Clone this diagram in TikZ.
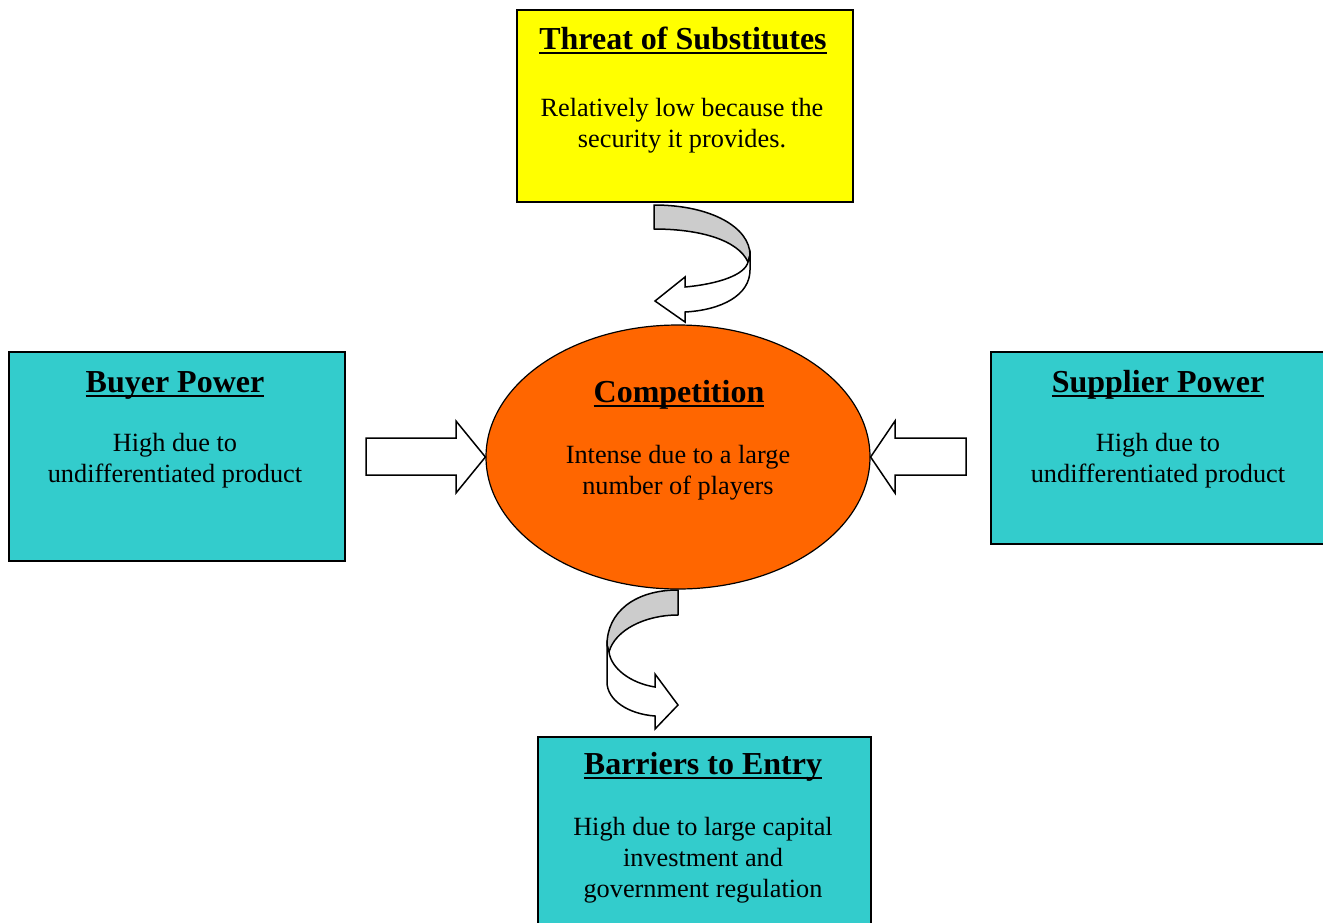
\documentclass[tikz,border=0pt]{standalone}
\usepackage{fontspec}
\setmainfont{Liberation Serif}
\usetikzlibrary{shapes.geometric}
\definecolor{boxteal}{HTML}{33CCCC}
\definecolor{boxyellow}{HTML}{FFFF00}
\definecolor{ellorange}{HTML}{FF6600}
\definecolor{arrgray}{HTML}{CCCCCC}
\newcommand\thickul[1]{\leavevmode\setbox0\hbox{#1}\rlap{\vrule height -2.5pt depth 4.8pt width \wd0}\box0}
\begin{document}
\begin{tikzpicture}[x=1pt,y=-1pt,
  box/.style={draw=black,line width=1.5pt,anchor=north west,inner sep=0pt},
  ttl/.style={font=\fontsize{32}{34}\selectfont\bfseries,inner sep=0pt,anchor=base},
  bodytext/.style={font=\fontsize{26.3}{31}\selectfont,align=center,inner sep=0pt},
  blockarrow/.style={draw=black,fill=white,line width=1.5pt,line join=miter},
  curvegray/.style={draw=black,fill=arrgray,line width=1.5pt,line join=round},
  curvewhite/.style={draw=black,fill=white,line width=1.5pt,line join=miter}]
\useasboundingbox (0,0) rectangle (1323,922);
% boxes
\node[box,fill=boxyellow,minimum width=336pt,minimum height=192pt] (threat) at (516,9) {};
\node[box,fill=boxteal,minimum width=336pt,minimum height=209pt] (buyer) at (8,351) {};
\node[box,fill=boxteal,minimum width=334pt,minimum height=192pt] (supplier) at (990,351) {};
\node[box,fill=boxteal,minimum width=333pt,minimum height=200pt] (barriers) at (537,736) {};
\node[ellipse,draw=black,line width=1.2pt,fill=ellorange,minimum width=384pt,minimum height=264pt,inner sep=0pt] (comp) at (678,457) {};
% texts
\node[ttl] (threatT) at (683,49) {\thickul{Threat of Substitutes}};
\node[bodytext] (threatB) at (682,126) {Relatively low because the\\security it provides.};
\node[ttl] (buyerT) at (175,392) {\thickul{Buyer Power}};
\node[bodytext] (buyerB) at (175,461) {High due to\\undifferentiated product};
\node[ttl] (supplierT) at (1158,392) {\thickul{Supplier Power}};
\node[bodytext] (supplierB) at (1158,461) {High due to\\undifferentiated product};
\node[ttl] (compT) at (679,402) {\thickul{Competition}};
\node[bodytext] (compB) at (678,473) {Intense due to a large\\number of players};
\node[ttl] (barriersT) at (703,774) {\thickul{Barriers to Entry}};
\node[bodytext] (barriersB) at (703,860) {High due to large capital\\investment and\\government regulation};
% block arrows
\draw[blockarrow] (366,438) -- (456,438) -- (456,421) -- (comp.west) -- (456,493) -- (456,475) -- (366,475) -- cycle;
\draw[blockarrow] (comp.east) -- (895,421) -- (895,438) -- (966,438) -- (966,475) -- (895,475) -- (895,493) -- cycle;
% top curved arrow
\draw[curvegray] (654,205) .. controls (712,205) and (750,228) .. (750,255) -- (748,262) .. controls (738,240) and (700,229) .. (654,229) -- cycle;
\draw[curvewhite] (750,255) -- (750,270) .. controls (750,295) and (722,310) .. (685,312) -- (685,322) -- (655,301) -- (685,277) -- (685,287) .. controls (718,284) and (745,275) .. (748,262) -- cycle;
% bottom curved arrow
\draw[curvegray] (678,590) .. controls (635,590) and (607,612) .. (607,645) -- (609,652) .. controls (615,630) and (645,615) .. (678,615) -- cycle;
\draw[curvewhite] (607,645) -- (607,682) .. controls (607,700) and (628,714) .. (655,716) -- (655,729) -- (678,705) -- (655,674) -- (655,687) .. controls (630,683) and (611,668) .. (609,652) -- cycle;
\end{tikzpicture}
\end{document}
